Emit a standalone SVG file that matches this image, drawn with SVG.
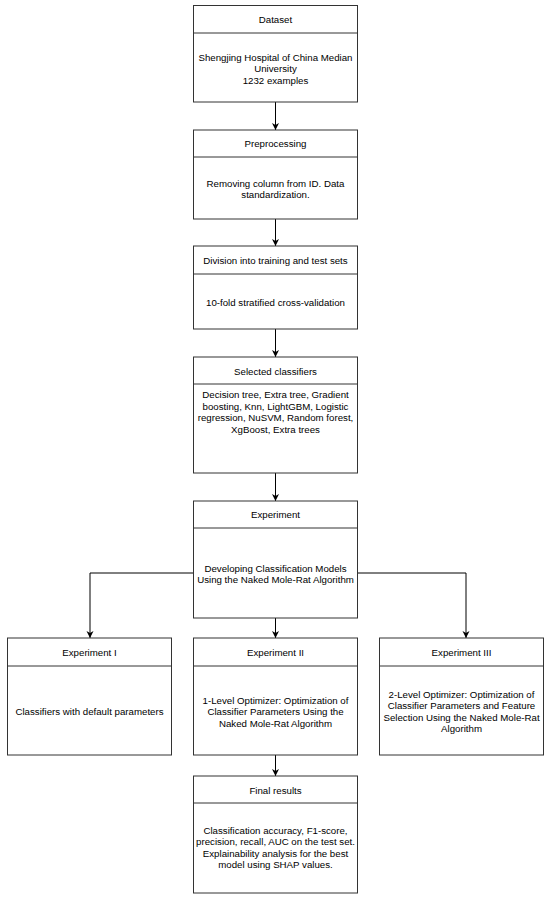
<svg xmlns="http://www.w3.org/2000/svg" width="550" height="900" viewBox="0 0 550 900">
<style>
.box{fill:#fff;stroke:#333;stroke-width:1}
.sep{stroke:#333;stroke-width:1}
text{font-family:"Liberation Sans",Arial,sans-serif;font-size:9.7px;fill:#000;text-anchor:middle}
.c{fill:none;stroke:#000;stroke-width:1}
</style>
<defs>
<marker id="ah" markerWidth="8" markerHeight="8" refX="7" refY="4" orient="auto" markerUnits="userSpaceOnUse">
<path d="M0,0.5 L7,4 L0,7.5 L2,4 z" fill="#000"/>
</marker>
</defs>
<rect width="550" height="900" fill="#fff"/>
<g id="connectors">
<line class="c" x1="275.5" y1="102" x2="275.5" y2="130" marker-end="url(#ah)"/>
<line class="c" x1="275.5" y1="219" x2="275.5" y2="246" marker-end="url(#ah)"/>
<line class="c" x1="275.5" y1="329" x2="275.5" y2="357" marker-end="url(#ah)"/>
<line class="c" x1="275.5" y1="473" x2="275.5" y2="501" marker-end="url(#ah)"/>
<line class="c" x1="275.5" y1="618" x2="275.5" y2="638" marker-end="url(#ah)"/>
<polyline class="c" points="193,573 90,573 90,638" marker-end="url(#ah)"/>
<polyline class="c" points="358,573 466,573 466,638" marker-end="url(#ah)"/>
<line class="c" x1="275.5" y1="755" x2="275.5" y2="776" marker-end="url(#ah)"/>
</g>
<g id="dataset">
<rect class="box" x="193.5" y="5.5" width="164" height="96.5"/>
<line class="sep" x1="193.5" y1="33" x2="357.5" y2="33"/>
<text x="275.5" y="22.5">Dataset</text>
<text x="275.5" y="60.5">Shengjing Hospital of China Median</text>
<text x="275.5" y="72">University</text>
<text x="275.5" y="83.5">1232 examples</text>
</g>
<g id="preprocessing">
<rect class="box" x="193.5" y="130" width="164" height="89"/>
<line class="sep" x1="193.5" y1="157" x2="357.5" y2="157"/>
<text x="275.5" y="146.5">Preprocessing</text>
<text x="275.5" y="186.5">Removing column from ID. Data</text>
<text x="275.5" y="198">standardization.</text>
</g>
<g id="division">
<rect class="box" x="193.5" y="246" width="164" height="83"/>
<line class="sep" x1="193.5" y1="274" x2="357.5" y2="274"/>
<text x="275.5" y="263.5">Division into training and test sets</text>
<text x="275.5" y="305.5">10-fold stratified cross-validation</text>
</g>
<g id="classifiers">
<rect class="box" x="193.5" y="357" width="164" height="116"/>
<line class="sep" x1="193.5" y1="384" x2="357.5" y2="384"/>
<text x="275.5" y="374.5">Selected classifiers</text>
<text x="275.5" y="398">Decision tree, Extra tree, Gradient</text>
<text x="275.5" y="409.5">boosting, Knn, LightGBM, Logistic</text>
<text x="275.5" y="421">regression, NuSVM, Random forest,</text>
<text x="275.5" y="432.5">XgBoost, Extra trees</text>
</g>
<g id="experiment">
<rect class="box" x="193.5" y="501" width="164" height="117"/>
<line class="sep" x1="193.5" y1="528" x2="357.5" y2="528"/>
<text x="275.5" y="517.5">Experiment</text>
<text x="275.5" y="571.5">Developing Classification Models</text>
<text x="275.5" y="583">Using the Naked Mole-Rat Algorithm</text>
</g>
<g id="experiment1">
<rect class="box" x="7.5" y="638" width="164" height="117"/>
<line class="sep" x1="7.5" y1="666" x2="171.5" y2="666"/>
<text x="89.5" y="655.5">Experiment I</text>
<text x="89.5" y="714.5">Classifiers with default parameters</text>
</g>
<g id="experiment2">
<rect class="box" x="193.5" y="638" width="164" height="117"/>
<line class="sep" x1="193.5" y1="666" x2="357.5" y2="666"/>
<text x="275.5" y="655.5">Experiment II</text>
<text x="275.5" y="703.5">1-Level Optimizer: Optimization of</text>
<text x="275.5" y="715">Classifier Parameters Using the</text>
<text x="275.5" y="726.5">Naked Mole-Rat Algorithm</text>
</g>
<g id="experiment3">
<rect class="box" x="379.5" y="638" width="164" height="117"/>
<line class="sep" x1="379.5" y1="666" x2="543.5" y2="666"/>
<text x="461.5" y="655.5">Experiment III</text>
<text x="461.5" y="697.5">2-Level Optimizer: Optimization of</text>
<text x="461.5" y="709">Classifier Parameters and Feature</text>
<text x="461.5" y="720.5">Selection Using the Naked Mole-Rat</text>
<text x="461.5" y="732">Algorithm</text>
</g>
<g id="final">
<rect class="box" x="193.5" y="776" width="164" height="117"/>
<line class="sep" x1="193.5" y1="803" x2="357.5" y2="803"/>
<text x="275.5" y="793.5">Final results</text>
<text x="275.5" y="833.5">Classification accuracy, F1-score,</text>
<text x="275.5" y="845">precision, recall, AUC on the test set.</text>
<text x="275.5" y="856.5">Explainability analysis for the best</text>
<text x="275.5" y="868">model using SHAP values.</text>
</g>
</svg>
